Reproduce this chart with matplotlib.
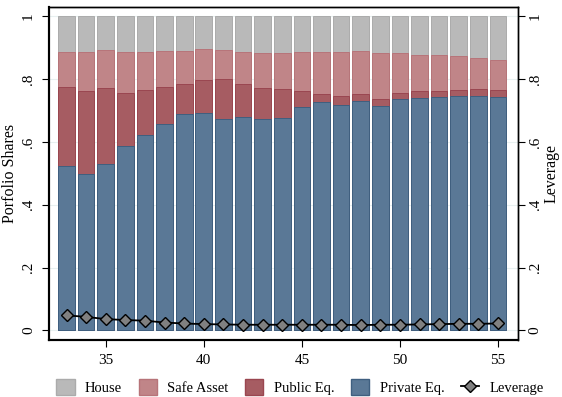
import numpy as np
import matplotlib
matplotlib.use("Agg")
import matplotlib.pyplot as plt
from matplotlib.lines import Line2D
from matplotlib.patches import Patch

plt.rcParams['font.family'] = ['Liberation Serif', 'DejaVu Serif']

# ages on the x axis
ages = list(range(33, 56))

# cumulative tops of each stacked segment
private_top = [0.524, 0.498, 0.530, 0.587, 0.623, 0.658, 0.690, 0.691, 0.672, 0.678,
               0.672, 0.675, 0.710, 0.726, 0.717, 0.729, 0.713, 0.736, 0.740, 0.742,
               0.745, 0.745, 0.742]
public_top = [0.776, 0.763, 0.771, 0.757, 0.764, 0.776, 0.784, 0.798, 0.799, 0.783,
              0.771, 0.767, 0.762, 0.751, 0.745, 0.751, 0.736, 0.756, 0.761, 0.761,
              0.765, 0.767, 0.765]
safe_top = [0.887, 0.885, 0.891, 0.885, 0.885, 0.888, 0.889, 0.894, 0.892, 0.885,
            0.882, 0.884, 0.885, 0.885, 0.885, 0.889, 0.882, 0.882, 0.878, 0.875,
            0.872, 0.866, 0.859]
house_top = [1.0] * 23
leverage = [0.048, 0.043, 0.036, 0.033, 0.031, 0.025, 0.022, 0.020, 0.019, 0.018,
            0.018, 0.018, 0.018, 0.018, 0.018, 0.017, 0.018, 0.018, 0.019, 0.020,
            0.021, 0.021, 0.022]

c_house = '#b9b9b9'
c_safe = '#c08588'
c_public = '#a65c62'
c_private = '#5a7896'

fig = plt.figure(figsize=(5.62, 3.97), dpi=100)
ax = fig.add_axes([0.087, 0.144, 0.834, 0.839])

w = 0.85
ax.bar(ages, house_top, width=w, color=c_house, edgecolor='#ababab', linewidth=0.7, zorder=2)
ax.bar(ages, safe_top, width=w, color=c_safe, edgecolor='#b77479', linewidth=0.7, zorder=2)
ax.bar(ages, public_top, width=w, color=c_public, edgecolor='#9a4650', linewidth=0.7, zorder=2)
ax.bar(ages, private_top, width=w, color=c_private, edgecolor='#3f5f80', linewidth=0.7, zorder=2)

ax2 = ax.twinx()
ax2.plot(ages, leverage, color='black', linewidth=1.3, marker='D', markersize=6.5,
         markerfacecolor='#808080', markeredgecolor='black', markeredgewidth=1.0, zorder=3)

for a in (ax, ax2):
    a.set_ylim(-0.03, 1.03)
    a.set_yticks([0, 0.2, 0.4, 0.6, 0.8, 1.0])
    a.set_yticklabels(['0', '.2', '.4', '.6', '.8', '1'], rotation=90, va='center')
    a.tick_params(axis='both', labelsize=11, length=5, width=0.8, pad=5)
ax2.tick_params(axis='y', pad=3)
ax.set_xlim(32.1, 56.0)
ax.set_xticks([35, 40, 45, 50, 55])
ax.grid(axis='y', color='#e8f0f0', linewidth=0.8, zorder=0)
ax.set_axisbelow(True)

ax.set_ylabel('Porfolio Shares', fontsize=11.5, labelpad=3)
ax2.set_ylabel('Leverage', fontsize=11.5, labelpad=1)

for a in (ax, ax2):
    a.spines['left'].set_linewidth(1.5)
    a.spines['bottom'].set_linewidth(1.5)
    a.spines['top'].set_linewidth(1.0)
    a.spines['right'].set_linewidth(1.0)

handles = [Patch(facecolor=c_house, edgecolor='#ababab'),
           Patch(facecolor=c_safe, edgecolor='#b77479'),
           Patch(facecolor=c_public, edgecolor='#9a4650'),
           Patch(facecolor=c_private, edgecolor='#3f5f80'),
           Line2D([], [], color='black', linewidth=1.3, marker='D', markersize=6.5,
                  markerfacecolor='#808080', markeredgecolor='black')]
labels = ['House', 'Safe Asset', 'Public Eq.', 'Private Eq.', 'Leverage']
fig.legend(handles, labels, loc='center', bbox_to_anchor=(0.534, 0.025), ncol=5,
           frameon=False, fontsize=10.5, handlelength=1.25, handleheight=1.25,
           columnspacing=1.15, handletextpad=0.7)

fig.savefig('out.png', dpi=100)
